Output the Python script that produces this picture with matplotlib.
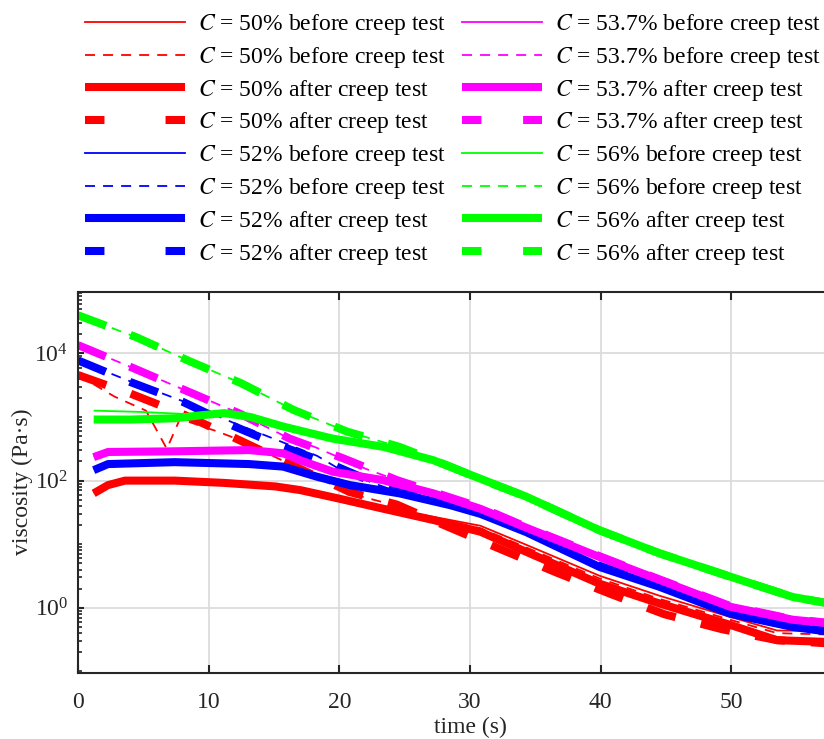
import matplotlib
matplotlib.use("Agg")
import matplotlib.pyplot as plt
from matplotlib.lines import Line2D
from matplotlib.ticker import FixedLocator, LogLocator, NullFormatter, LogFormatterSciNotation

plt.rcParams["font.family"] = ["Liberation Serif", "DejaVu Serif"]
plt.rcParams["mathtext.fontset"] = "stix"
plt.rcParams["font.size"] = 17
plt.rcParams["lines.scale_dashes"] = False

# ---------------- data: time (s) and viscosity (Pa·s) ----------------
# C = 50 %
t50_bs = [1.2, 2.3, 3.6, 7.4, 11.2, 15.1, 17.0, 20.0, 23.4, 27.2, 30.8, 34.3, 39.9, 44.5, 49.9, 53.5, 57.5]
v50_bs = [63, 85, 100, 100, 92, 81, 71, 52, 37, 27, 19.5, 9.8, 3.2, 1.55, 0.72, 0.44, 0.43]
t50_bd = [0, 2.8, 5.2, 6.8, 7.8, 10.7, 12.1, 15.8, 20.8, 24.4, 27.2, 30.8, 34.3, 39.9, 44.5, 49.9, 53.5, 57.5]
v50_bd = [4570, 2090, 1260, 316, 933, 589, 457, 200, 63, 40, 25.7, 17.8, 8.9, 2.9, 1.38, 0.65, 0.40, 0.38]
t50_as = [1.2, 2.3, 3.6, 7.4, 11.2, 15.1, 17.0, 20.0, 23.4, 27.2, 30.8, 34.3, 39.9, 44.5, 49.9, 53.5, 57.5]
v50_as = [63, 85, 100, 100, 92, 81, 71, 52, 36, 24, 15.7, 7.6, 2.4, 1.17, 0.54, 0.31, 0.29]
t50_ad = [0, 4.0, 8.2, 12.1, 15.8, 20.8, 24.4, 28.0, 32.5, 36.6, 40.8, 44.9, 49.3, 53.5, 57.5]
v50_ad = [4570, 2340, 1070, 457, 200, 66, 42, 20, 8.1, 3.6, 1.64, 0.79, 0.46, 0.31, 0.275]

# C = 52 %
t52_bs = [1.2, 2.3, 7.4, 13.1, 15.7, 18.3, 20.8, 24.6, 28.5, 30.8, 34.3, 39.9, 44.5, 49.9, 54.7, 57.5]
v52_bs = [150, 185, 196, 184, 168, 118, 87, 64, 42, 31, 16, 4.5, 2.2, 0.83, 0.51, 0.43]
t52_bd = [0, 4.0, 8.0, 12.0, 15.7, 18.3, 20.5, 24.0, 28.5, 30.8, 34.3, 39.9, 44.5, 49.9, 54.7, 57.5]
v52_bd = [7760, 3630, 1780, 794, 398, 245, 132, 72, 43, 32, 15.8, 4.6, 2.19, 0.83, 0.51, 0.43]
t52_as = [1.2, 2.3, 7.4, 13.1, 15.7, 18.3, 20.8, 24.6, 28.5, 30.8, 34.3, 39.9, 44.5, 49.9, 54.7, 57.5]
v52_as = [146, 182, 195, 182, 166, 115, 85, 63, 41, 30, 15.5, 4.4, 2.14, 0.81, 0.50, 0.42]
t52_ad = [0, 4.0, 8.0, 12.0, 15.7, 19.8, 24.0, 28.5, 30.8, 34.3, 39.9, 44.5, 49.9, 54.7, 57.5]
v52_ad = [7760, 3550, 1740, 708, 339, 166, 71, 43, 32, 15.8, 4.6, 2.19, 0.83, 0.51, 0.43]

# C = 53.7 %
t537_bs = [1.2, 2.3, 7.0, 13.1, 15.7, 17.0, 19.5, 23.3, 27.2, 30.8, 34.3, 39.9, 44.5, 49.9, 54.7, 57.5]
v537_bs = [238, 285, 290, 300, 270, 212, 140, 103, 64, 37, 18.5, 6.4, 2.8, 1.05, 0.66, 0.58]
t537_bd = [0, 4.1, 8.2, 12.3, 16.2, 18.1, 22.1, 24.4, 27.2, 30.8, 34.3, 39.9, 44.5, 49.9, 54.7, 57.5]
v537_bd = [13500, 6030, 2630, 1150, 457, 339, 151, 102, 66, 38, 18.7, 6.5, 2.8, 1.07, 0.66, 0.58]
t537_as = [1.2, 2.3, 7.0, 13.1, 15.7, 17.0, 19.5, 23.3, 27.2, 30.8, 34.3, 39.9, 44.5, 49.9, 54.7, 57.5]
v537_as = [234, 282, 288, 302, 269, 209, 138, 102, 63, 36, 18.2, 6.3, 2.75, 1.04, 0.65, 0.57]
t537_ad = [0, 4.1, 8.2, 12.3, 16.2, 20.3, 24.4, 27.2, 30.8, 34.3, 39.9, 44.5, 49.9, 54.7, 57.5]
v537_ad = [13500, 6030, 2630, 1150, 457, 224, 102, 66, 38, 18.7, 6.5, 2.8, 1.07, 0.66, 0.58]

# C = 56 %
t56_bs = [1.2, 4.9, 8.0, 10.0, 11.2, 13.2, 15.7, 19.5, 23.4, 27.2, 30.8, 34.3, 39.9, 44.5, 49.9, 54.7, 57.5]
v56_bs = [1260, 1200, 1120, 1100, 1150, 1000, 708, 457, 339, 209, 107, 56, 16.6, 7.2, 3.1, 1.48, 1.17]
t56_bd = [0, 4.4, 8.4, 12.5, 16.5, 20.6, 24.6, 28.5, 30.8, 34.3, 39.9, 44.5, 49.9, 54.7, 57.5]
v56_bd = [39800, 18200, 7760, 3390, 1290, 589, 339, 166, 105, 56, 16.6, 7.2, 3.1, 1.48, 1.17]
t56_as = [1.2, 4.0, 7.4, 9.5, 11.2, 13.2, 15.7, 19.5, 23.4, 27.2, 30.8, 34.3, 39.9, 44.5, 49.9, 54.7, 57.5]
v56_as = [912, 912, 955, 1070, 1150, 1000, 708, 457, 339, 209, 107, 56, 16.6, 7.2, 3.1, 1.48, 1.17]
t56_ad = [0, 4.4, 8.4, 12.5, 16.5, 20.6, 24.6, 28.5, 30.8, 34.3, 39.9, 44.5, 49.9, 54.7, 57.5]
v56_ad = [39800, 18200, 7760, 3390, 1290, 589, 339, 166, 105, 56, 16.6, 7.2, 3.1, 1.48, 1.17]

concentrations = ["50", "52", "53.7", "56"]
colors = ["#ff0000", "#0000ff", "#ff00ff", "#00ff00"]
series = [
    [(t50_bs, v50_bs), (t50_bd, v50_bd), (t50_as, v50_as), (t50_ad, v50_ad)],
    [(t52_bs, v52_bs), (t52_bd, v52_bd), (t52_as, v52_as), (t52_ad, v52_ad)],
    [(t537_bs, v537_bs), (t537_bd, v537_bd), (t537_as, v537_as), (t537_ad, v537_ad)],
    [(t56_bs, v56_bs), (t56_bd, v56_bd), (t56_as, v56_as), (t56_ad, v56_ad)],
]
states = ["before creep test", "before creep test", "after creep test", "after creep test"]

THIN, THICK = 1.3, 5.8
plot_styles = [
    dict(lw=THIN, ls="-"),
    dict(lw=THIN, ls=(0, (7.2, 5.8))),
    dict(lw=THICK, ls="-"),
    dict(lw=THICK, ls=(0, (21.6, 18.7))),
]

W, H = 824, 739
fig = plt.figure(figsize=(W / 100, H / 100), dpi=100)
ax = fig.add_axes([78 / W, (H - 672.7) / H, 784 / W, 381 / H])

labels = []
for conc, col, group in zip(concentrations, colors, series):
    for (t, v), st, state in zip(group, plot_styles, states):
        ax.plot(t, v, color=col, solid_capstyle="butt", dash_capstyle="butt", **st)
        labels.append(f"$C$ = {conc}% {state}")

# ---------------- axes ----------------
ax.set_yscale("log")
ax.set_xlim(0, 60)
ax.set_ylim(10 ** -1.02, 10 ** 4.97)
ax.set_xticks(range(0, 51, 10))
ax.yaxis.set_major_locator(FixedLocator([1, 100, 1e4]))
ax.yaxis.set_major_formatter(LogFormatterSciNotation())
ax.yaxis.set_minor_locator(LogLocator(base=10, subs=range(1, 10), numticks=20))
ax.yaxis.set_minor_formatter(NullFormatter())

spine_col = "#262626"
for s in ax.spines.values():
    s.set_color(spine_col)
    s.set_linewidth(1.5)
ax.tick_params(axis="x", which="major", direction="in", top=True, length=6.1, width=1.5,
               color=spine_col, labelcolor=spine_col, pad=14)
ax.tick_params(axis="y", which="major", direction="in", right=False, length=4.3, width=1.5,
               color=spine_col, labelcolor=spine_col, pad=7)
ax.tick_params(axis="y", which="minor", direction="in", right=False, length=2.9, width=1.2,
               color=spine_col)

ax.grid(True, which="major", color="#dcdcdc", lw=1.3)
ax.set_axisbelow(True)

ax.set_xlabel("time (s)", color=spine_col, labelpad=3)
ax.set_ylabel("viscosity (Pa·s)", color=spine_col)
ax.yaxis.set_label_coords(-0.058, 0.5)

# ---------------- legend (two columns) ----------------
def legend_proxies(col, dash_gap):
    return [
        Line2D([], [], color=col, lw=THIN, ls="-"),
        Line2D([], [], color=col, lw=THIN, ls=(0, (7.2, 5.8))),
        Line2D([], [], color=col, lw=THICK, ls="-", solid_capstyle="butt"),
        Line2D([], [], color=col, lw=THICK, ls=(0, (14, dash_gap)), dash_capstyle="butt"),
    ]

left_handles = legend_proxies(colors[0], 44) + legend_proxies(colors[1], 44)
right_handles = legend_proxies(colors[2], 30) + legend_proxies(colors[3], 30)

common = dict(frameon=False, loc="upper left", borderpad=0, borderaxespad=0,
              handletextpad=0.55, labelspacing=0.33, fontsize=17)
fig.legend(left_handles, labels[:8], bbox_to_anchor=(85 / W, 1 - 12 / H),
           handlelength=4.25, **common)
fig.legend(right_handles, labels[8:], bbox_to_anchor=(462 / W, 1 - 12 / H),
           handlelength=3.4, **common)

fig.savefig("out.png", dpi=100)
